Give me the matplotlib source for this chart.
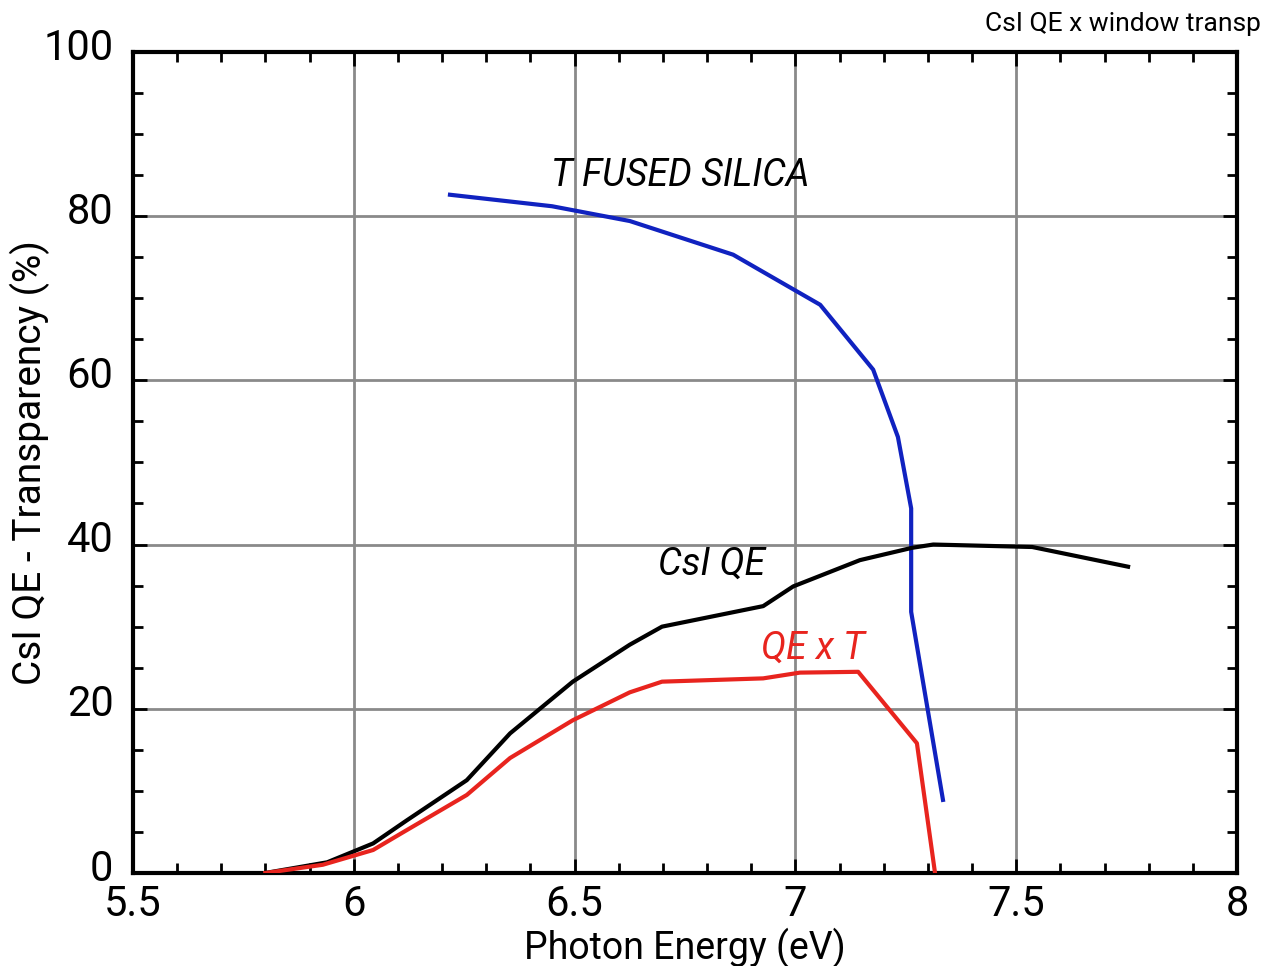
import numpy as np
import matplotlib
matplotlib.use('Agg')
import matplotlib.pyplot as plt
import matplotlib.transforms as mtransforms
from matplotlib.ticker import MultipleLocator

plt.rcParams['font.family'] = ['Roboto', 'DejaVu Sans']

# transparency of the fused silica window
t_energy = [6.218, 6.449, 6.625, 6.859, 7.056, 7.176, 7.232, 7.262, 7.262, 7.334]
t_value = [82.6, 81.2, 79.4, 75.3, 69.2, 61.3, 53.1, 44.4, 31.8, 8.9]

# CsI quantum efficiency
qe_energy = [5.80, 5.94, 6.044, 6.12, 6.256, 6.354, 6.496, 6.625, 6.698, 6.927,
             6.995, 7.146, 7.264, 7.312, 7.536, 7.753]
qe_value = [0.0, 1.3, 3.6, 6.4, 11.3, 17.0, 23.3, 27.8, 30.0, 32.5,
            34.9, 38.1, 39.6, 40.0, 39.7, 37.3]

# QE x T
qt_energy = [5.80, 5.93, 6.044, 6.11, 6.256, 6.354, 6.496, 6.625, 6.698, 6.927,
             7.01, 7.142, 7.275, 7.316]
qt_value = [0.0, 1.0, 2.8, 4.9, 9.5, 14.0, 18.6, 22.0, 23.3, 23.7,
            24.4, 24.5, 15.8, 0.0]

fig = plt.figure(figsize=(12.65, 9.66), dpi=100)
ax = fig.add_axes([0.105, 0.0963, 0.873, 0.85])

ax.plot(t_energy, t_value, color='#1022c0', lw=3, zorder=3)
ax.plot(qe_energy, qe_value, color='black', lw=3, zorder=3)
ax.plot(qt_energy, qt_value, color='#e8241e', lw=3, zorder=3)

ax.text(6.74, 85, 'T FUSED SILICA', fontsize=27, style='italic', ha='center', va='center')
ax.text(6.81, 37.6, 'CsI QE', fontsize=27, style='italic', ha='center', va='center')
ax.text(7.04, 27.4, 'QE x T', fontsize=27, style='italic', ha='center', va='center', color='#e8241e')

ax.set_xlim(5.5, 8)
ax.set_ylim(0, 100)
ax.xaxis.set_minor_locator(MultipleLocator(0.1))
ax.yaxis.set_major_locator(MultipleLocator(20))
ax.yaxis.set_minor_locator(MultipleLocator(5))
ax.set_xticks([5.5, 6, 6.5, 7, 7.5, 8])
ax.set_xticklabels(['5.5', '6', '6.5', '7', '7.5', '8'])
ax.grid(True, which='major', color='#8a8a8a', lw=2)
ax.tick_params(which='both', direction='in', top=True, right=True, labelsize=30, width=2)
ax.tick_params(which='major', length=10)
ax.tick_params(which='minor', length=7)
ax.tick_params(axis='y', pad=14)
ax.tick_params(axis='x', pad=8)
for s in ax.spines.values():
    s.set_linewidth(3)

# nudge y tick labels up a little so "0" clears "5.5"
up = mtransforms.ScaledTranslation(0, 6 / 72, fig.dpi_scale_trans)
for lbl in ax.get_yticklabels():
    lbl.set_transform(lbl.get_transform() + up)

ax.set_xlabel('Photon Energy (eV)', fontsize=27)
ax.set_ylabel('CsI QE - Transparency (%)', fontsize=28)
ax.xaxis.set_label_coords(0.5, -0.067)
ax.yaxis.set_label_coords(-0.075, 0.5)
fig.text(0.997, 0.975, 'CsI QE x window transp', fontsize=19, ha='right', va='center')

fig.savefig('out.png', dpi=100)
